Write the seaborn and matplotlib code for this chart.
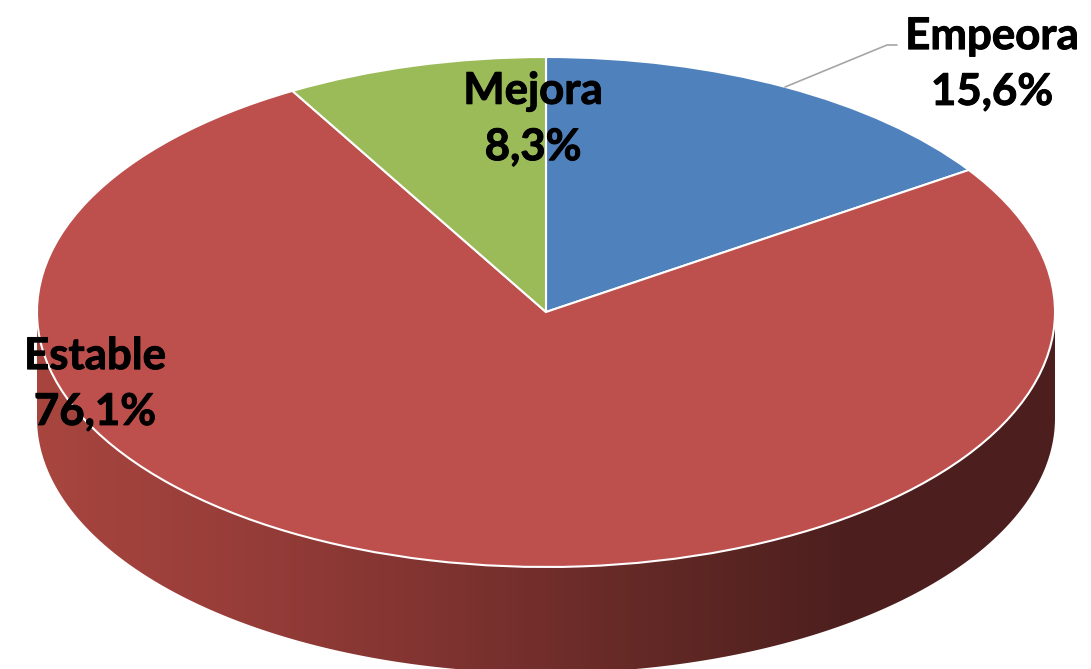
import numpy as np
import matplotlib
matplotlib.use("Agg")
import matplotlib.pyplot as plt
import matplotlib.patheffects as pe
import seaborn as sns
from matplotlib.colors import LinearSegmentedColormap
from matplotlib.patches import Polygon

categories = ["Empeora", "Estable", "Mejora"]
values = [15.6, 76.1, 8.3]
value_labels = ["15,6%", "76,1%", "8,3%"]
pie_colors = ["#4F81BD", "#BD4F4C", "#9BBB59"]
side_colors = ["#A8453F", "#973D39", "#7F3330", "#632926", "#4C1F1E", "#4C1F1E"]

W, H = 1091, 669
CX, CY, RX, RY = 546, 312, 509, 255   # ellipse of the pie top in pixels
DEPTH = 106 / RY

sns.set_theme(style="white")
plt.rcParams["font.family"] = ["Lato", "DejaVu Sans"]


def px(x, y):
    # image pixel -> pie units
    return (x - CX) / RX, (CY - y) / RY


fig = plt.figure(figsize=(W / 100, H / 100), dpi=100)
ax = fig.add_axes([0, 0, 1, 1])

# side wall, gradient clipped to the lower half of the disc
t = np.linspace(np.pi, 2 * np.pi, 300)
wall = np.r_[np.c_[np.cos(t), np.sin(t)], np.c_[np.cos(t[::-1]), np.sin(t[::-1]) - DEPTH]]
clip = Polygon(wall, closed=True, transform=ax.transData, fc="none", ec="none")
ax.add_patch(clip)
cmap = LinearSegmentedColormap.from_list("side", side_colors)
img = ax.imshow(np.linspace(0, 1, 256)[None, :], cmap=cmap, aspect="auto",
                extent=(-1, 1, -1 - DEPTH, 0), zorder=1)
img.set_clip_path(clip)

ax.pie(values, colors=pie_colors, startangle=90, counterclock=False, radius=1,
       wedgeprops={"edgecolor": "white", "linewidth": 1.5, "zorder": 2})

ax.set_aspect("auto")
x0, y0 = px(0, H)
x1, y1 = px(W, 0)
ax.set_xlim(x0, x1)
ax.set_ylim(y0, y1)
ax.axis("off")

# leader line for Empeora
lx, ly = zip(*[px(785, 87), px(887, 45), px(897, 45)])
ax.plot(lx, ly, color="#A6A6A6", lw=1.2, zorder=3)

label_pos = [(992, 64), (95, 384), (533, 119)]
for name, val, pos in zip(categories, value_labels, label_pos):
    x, y = px(*pos)
    ax.text(x, y, name + "\n" + val, ha="center", va="center", fontsize=31.5,
            fontweight="bold", color="black", linespacing=1.48, zorder=5,
            path_effects=[pe.withStroke(linewidth=0.7, foreground="black")])

fig.savefig("out.png", dpi=100)
